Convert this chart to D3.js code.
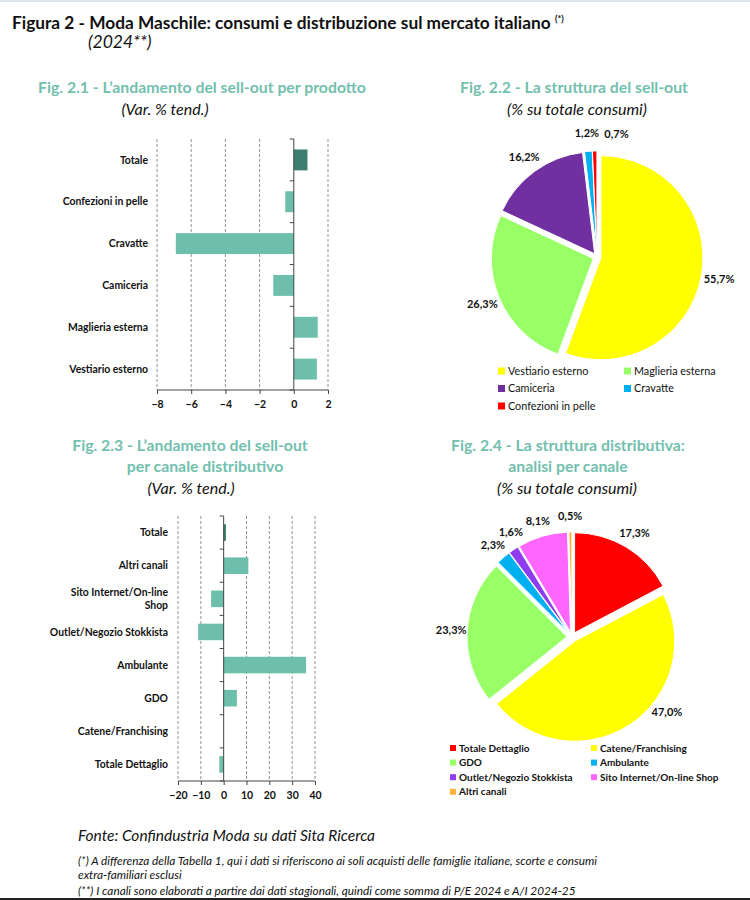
<!DOCTYPE html>
<html>
<head>
<meta charset="utf-8">
<script src="https://cdn.jsdelivr.net/npm/d3@7"></script>
<style>
  body { margin: 0; background: #fff; }
  svg { font-family: Lato, "Open Sans", sans-serif; }
  .main-title { font-size: 17.3px; font-weight: bold; fill: #111; }
  .fig-title { font-size: 15.8px; font-weight: bold; fill: #72c0ae; }
  .fig-sub { font-size: 16px; font-style: italic; fill: #111; }
  .cat { font-size: 10.4px; font-weight: bold; fill: #111; }
  .xAxis text { font-size: 10.5px; font-weight: bold; fill: #111; font-family: Lato, sans-serif; }
  .pct { font-size: 11px; font-weight: bold; fill: #111; }
  .note { font-size: 11.8px; font-style: italic; fill: #111; }
</style>
</head>
<body>
<svg width="750" height="900"></svg>
<script>
// Fig. 2.1 - var. % by product
const productCats  = ["Totale", "Confezioni in pelle", "Cravatte", "Camiceria", "Maglieria esterna", "Vestiario esterno"];
const productVar   = [0.8, -0.5, -6.9, -1.2, 1.4, 1.35];
const productTicks = [-8, -6, -4, -2, 0, 2];

// Fig. 2.2 - share by product
const productShareCats = ["Vestiario esterno", "Maglieria esterna", "Camiceria", "Cravatte", "Confezioni in pelle"];
const productShare     = [55.7, 26.3, 16.2, 1.2, 0.7];
const productColors    = ["#ffff00", "#99ff66", "#7030a0", "#00b0f0", "#ff0000"];

// Fig. 2.3 - var. % by channel
const channelCats  = ["Totale", "Altri canali", "Sito Internet/On-line Shop", "Outlet/Negozio Stokkista",
                      "Ambulante", "GDO", "Catene/Franchising", "Totale Dettaglio"];
const channelVar   = [1.0, 10.8, -5.5, -11.2, 36.1, 5.8, 0, -1.9];
const channelTicks = [-20, -10, 0, 10, 20, 30, 40];

// Fig. 2.4 - share by channel
const channelShareCats = ["Totale Dettaglio", "Catene/Franchising", "GDO", "Ambulante",
                          "Outlet/Negozio Stokkista", "Sito Internet/On-line Shop", "Altri canali"];
const channelShare     = [17.3, 47.0, 23.3, 2.3, 1.6, 8.1, 0.5];
const channelColors    = ["#ff0000", "#ffff00", "#99ff66", "#00b0f0", "#8e3cf0", "#ff66ff", "#ffb13b"];

const totalColor = "#3d7f6e";
const barColor   = "#6dbfab";

const fmtPct = (v) => d3.format(".1f")(v).replace(".", ",") + "%";

window.onload = () => {
  const svg = d3.select("svg");

  svg.append("line")
    .attr("x1", 0).attr("x2", 750).attr("y1", 1).attr("y2", 1)
    .attr("stroke", "#dfe5ec").attr("stroke-width", 2);
  svg.append("line")
    .attr("x1", 0).attr("x2", 750).attr("y1", 899).attr("y2", 899)
    .attr("stroke", "#222").attr("stroke-width", 2);

  const title = svg.append("text")
    .attr("class", "main-title")
    .attr("x", 12).attr("y", 29)
    .text("Figura 2 - Moda Maschile: consumi e distribuzione sul mercato italiano ");
  title.append("tspan")
    .style("font-size", "9px").attr("dy", "-7")
    .text("(*)");
  svg.append("text")
    .attr("class", "fig-sub")
    .attr("x", 88).attr("y", 48)
    .style("font-size", "17.5px")
    .text("(2024**)");

  drawTitles(svg, 202, 93, ["Fig. 2.1 - L\u2019andamento del sell-out per prodotto"], "(Var. % tend.)", 165);
  drawTitles(svg, 574, 93, ["Fig. 2.2 - La struttura del sell-out"], "(% su totale consumi)", 577);
  drawTitles(svg, 190, 451, ["Fig. 2.3 - L\u2019andamento del sell-out", "per canale distributivo"], "(Var. % tend.)", 191, [0, 15]);
  drawTitles(svg, 568, 451, ["Fig. 2.4 - La struttura distributiva:", "analisi per canale"], "(% su totale consumi)", 567);

  drawBars(svg, {
    cats: productCats, vals: productVar, ticks: productTicks,
    x0: 157, x1: 328, y0: 139, y1: 390, labelX: 148, pad: 0.5
  });

  drawBars(svg, {
    cats: channelCats, vals: channelVar, ticks: channelTicks,
    x0: 178, x1: 315, y0: 516, y1: 781, labelX: 168, pad: 0.5, wrap: 120
  });

  drawPie(svg, {
    vals: productShare, colors: productColors,
    cx: 597, cy: 257, r: 102, explode: 4, labelR: 124, maxY: 330
  });
  drawLegend(svg, productShareCats, productColors, {
    x: 498, y: 371, colW: 126, rowH: 17.5, size: 10.8, weight: "normal", sq: 7
  });

  drawPie(svg, {
    vals: channelShare, colors: channelColors,
    cx: 572, cy: 637, r: 100, explode: 5, labelR: 121, maxY: 712
  });
  drawLegend(svg, channelShareCats, channelColors, {
    x: 450, y: 748, colW: 141, rowH: 14.6, size: 10, weight: "bold", sq: 6
  });

  const notes = svg.append("g");
  notes.append("text").attr("class", "note")
    .attr("x", 78).attr("y", 841).style("font-size", "15.5px")
    .text("Fonte: Confindustria Moda su dati Sita Ricerca");
  notes.append("text").attr("class", "note")
    .attr("x", 78).attr("y", 865)
    .text("(*) A differenza della Tabella 1, qui i dati si riferiscono ai soli acquisti delle famiglie italiane, scorte e consumi");
  notes.append("text").attr("class", "note")
    .attr("x", 78).attr("y", 879)
    .text("extra-familiari esclusi");
  notes.append("text").attr("class", "note")
    .attr("x", 78).attr("y", 895)
    .text("(**) I canali sono elaborati a partire dai dati stagionali, quindi come somma di P/E 2024 e A/I 2024-25");
}

const drawTitles = (svg, cx, y, lines, sub, subX, shifts) => {
  const g = svg.append("g").attr("class", "titles");
  lines.forEach((l, i) => {
    g.append("text")
      .attr("class", "fig-title")
      .attr("text-anchor", "middle")
      .attr("x", cx + (shifts ? shifts[i] : 0))
      .attr("y", y + i * 21)
      .text(l);
  });
  g.append("text")
    .attr("class", "fig-sub")
    .attr("text-anchor", "middle")
    .attr("x", subX)
    .attr("y", y + lines.length * 21 + 1)
    .text(sub);
}

const drawBars = (svg, o) => {
  const g = svg.append("g").attr("class", "bars");

  const x = d3.scaleLinear()
    .domain(d3.extent(o.ticks))
    .range([o.x0, o.x1]);

  const y = d3.scaleBand()
    .domain(o.cats)
    .range([o.y0, o.y1])
    .paddingInner(o.pad)
    .paddingOuter(o.pad / 2);

  // dashed grid
  g.selectAll(".grid")
    .data(o.ticks.filter(t => t !== 0))
    .enter().append("line")
      .attr("x1", x).attr("x2", x)
      .attr("y1", o.y0).attr("y2", o.y1)
      .attr("stroke", "#777")
      .attr("stroke-width", 0.8)
      .attr("stroke-dasharray", "3,2");

  g.selectAll(".bar")
    .data(o.vals)
    .enter().append("rect")
      .attr("x", d => x(Math.min(0, d)))
      .attr("width", d => Math.abs(x(d) - x(0)))
      .attr("y", (d, i) => y(o.cats[i]))
      .attr("height", y.bandwidth())
      .attr("fill", (d, i) => i === 0 ? totalColor : barColor);

  // zero axis with category ticks
  const zero = g.append("g");
  zero.append("line")
    .attr("x1", x(0)).attr("x2", x(0))
    .attr("y1", o.y0).attr("y2", o.y1)
    .attr("stroke", "#444").attr("stroke-width", 1);
  const step = y.step();
  zero.selectAll(".ctick")
    .data(d3.range(o.cats.length + 1))
    .enter().append("line")
      .attr("x1", x(0) - 4).attr("x2", x(0))
      .attr("y1", i => o.y0 + i * step)
      .attr("y2", i => o.y0 + i * step)
      .attr("stroke", "#444");

  const xAxis = g.append("g")
    .attr("class", "xAxis")
    .attr("transform", `translate(0, ${o.y1})`)
    .call(d3.axisBottom(x).tickValues(o.ticks).tickSize(4).tickPadding(7));
  xAxis.selectAll("path, line").attr("stroke", "#444");
  xAxis.select(".domain").attr("d", `M${o.x0},0H${o.x1}`);

  const labels = g.selectAll(".cat")
    .data(o.cats)
    .enter().append("text")
      .attr("class", "cat")
      .attr("text-anchor", "end")
      .attr("x", o.labelX)
      .attr("y", d => y(d) + y.bandwidth() / 2)
      .attr("dy", "0.35em")
      .text(d => d);

  if (o.wrap) {
    labels.each(function (d) {
      const t = d3.select(this);
      if (this.getComputedTextLength() <= o.wrap) return;
      const words = d.split(" ");
      const last = words.pop();
      t.text(null);
      t.append("tspan").attr("x", o.labelX).attr("dy", "-0.3em").text(words.join(" "));
      t.append("tspan").attr("x", o.labelX).attr("dy", "1.3em").text(last);
    });
  }
}

const drawPie = (svg, o) => {
  const g = svg.append("g")
    .attr("class", "pie")
    .attr("transform", `translate(${o.cx}, ${o.cy})`);

  const arcs = d3.pie().sort(null).value(d => d)(o.vals);
  const arc = d3.arc().innerRadius(0).outerRadius(o.r);
  const mid = (d) => (d.startAngle + d.endAngle) / 2;

  g.selectAll("path")
    .data(arcs)
    .enter().append("path")
      .attr("d", arc)
      .attr("fill", (d, i) => o.colors[i])
      .attr("stroke", "#fff")
      .attr("stroke-width", 1)
      .attr("transform", d => `translate(${o.explode * Math.sin(mid(d))}, ${-o.explode * Math.cos(mid(d))})`);

  // labels, rotated clockwise when they collide with previous ones
  const placed = [];
  const maxY = o.maxY - o.cy;
  arcs.forEach((d, i) => {
    const t = g.append("text")
      .attr("class", "pct")
      .attr("text-anchor", "middle")
      .attr("dy", "0.35em")
      .text(fmtPct(d.data));
    const w = t.node().getComputedTextLength();
    const h = 12;
    let a = mid(d);
    let px, py;
    for (let k = 0; k < 60; k++) {
      px = o.labelR * Math.sin(a);
      py = -o.labelR * Math.cos(a);
      if (py > maxY) {
        py = maxY;
        px = Math.sign(px) * Math.sqrt(o.labelR * o.labelR - py * py);
      }
      const hit = placed.some(p => Math.abs(p.x - px) < (p.w + w) / 2 + 2 && Math.abs(p.y - py) < h);
      if (!hit) break;
      a += 0.03;
    }
    placed.push({ x: px, y: py, w });
    t.attr("x", px).attr("y", py);
  });
}

const drawLegend = (svg, cats, colors, o) => {
  const g = svg.append("g").attr("class", "legend");
  const item = g.selectAll("g")
    .data(cats)
    .enter().append("g")
      .attr("transform", (d, i) => `translate(${o.x + (i % 2) * o.colW}, ${o.y + Math.floor(i / 2) * o.rowH})`);
  item.append("rect")
    .attr("x", 0).attr("y", -o.sq / 2)
    .attr("width", o.sq).attr("height", o.sq)
    .attr("fill", (d, i) => colors[i]);
  item.append("text")
    .attr("x", o.sq + 3)
    .attr("dy", "0.35em")
    .attr("font-size", o.size + "px")
    .attr("font-weight", o.weight)
    .attr("fill", "#111")
    .text(d => d);
}
</script>
</body>
</html>
